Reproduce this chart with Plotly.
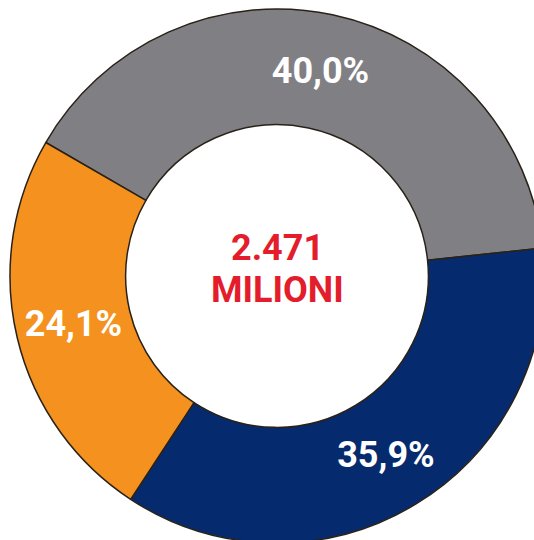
import plotly.graph_objects as go

categories = ["Grigio", "Blu", "Arancione"]
values = [40.0, 35.9, 24.1]
value_labels = ["40,0%", "35,9%", "24,1%"]
colors = ["#808084", "#062a6e", "#f5921f"]
center_lines = ["2.471", "MILIONI"]

FONT = "Roboto, Liberation Sans, Arial, sans-serif"

W, H = 545, 545
CX, CY, R = 277, 276, 267   # pixel centre and outer radius of the ring

fig = go.Figure(go.Pie(
    labels=categories,
    values=values,
    text=value_labels,
    texttemplate="<b>%{text}</b>",
    textinfo="text",
    textposition="inside",
    insidetextorientation="horizontal",
    textfont=dict(family=FONT, size=36, color="white"),
    hole=0.567,
    sort=False,
    direction="clockwise",
    rotation=-60,
    marker=dict(colors=colors, line=dict(color="#2a2218", width=1.5)),
    domain=dict(x=[(CX - R) / W, (CX + R) / W],
                y=[(H - CY - R) / H, (H - CY + R) / H]),
    showlegend=False,
    hoverinfo="label+text",
))

fig.add_annotation(
    x=CX / W, y=1 - 248 / H, xref="paper", yref="paper",
    text="<b>" + center_lines[0] + "</b>", showarrow=False,
    font=dict(family=FONT, size=36, color="#e31d2b"),
)
fig.add_annotation(
    x=CX / W, y=1 - 290 / H, xref="paper", yref="paper",
    text="<b>" + center_lines[1] + "</b>", showarrow=False,
    font=dict(family=FONT, size=36, color="#e31d2b"),
)

fig.update_layout(
    width=W, height=H,
    margin=dict(l=0, r=0, t=0, b=0),
    paper_bgcolor="white", plot_bgcolor="white",
)

fig.write_html(
    "out.html",
    config={"displayModeBar": False},
    post_script=("document.body.style.margin='0';"
                 "document.documentElement.style.overflow='hidden';"
                 "document.body.style.overflow='hidden';"),
)
